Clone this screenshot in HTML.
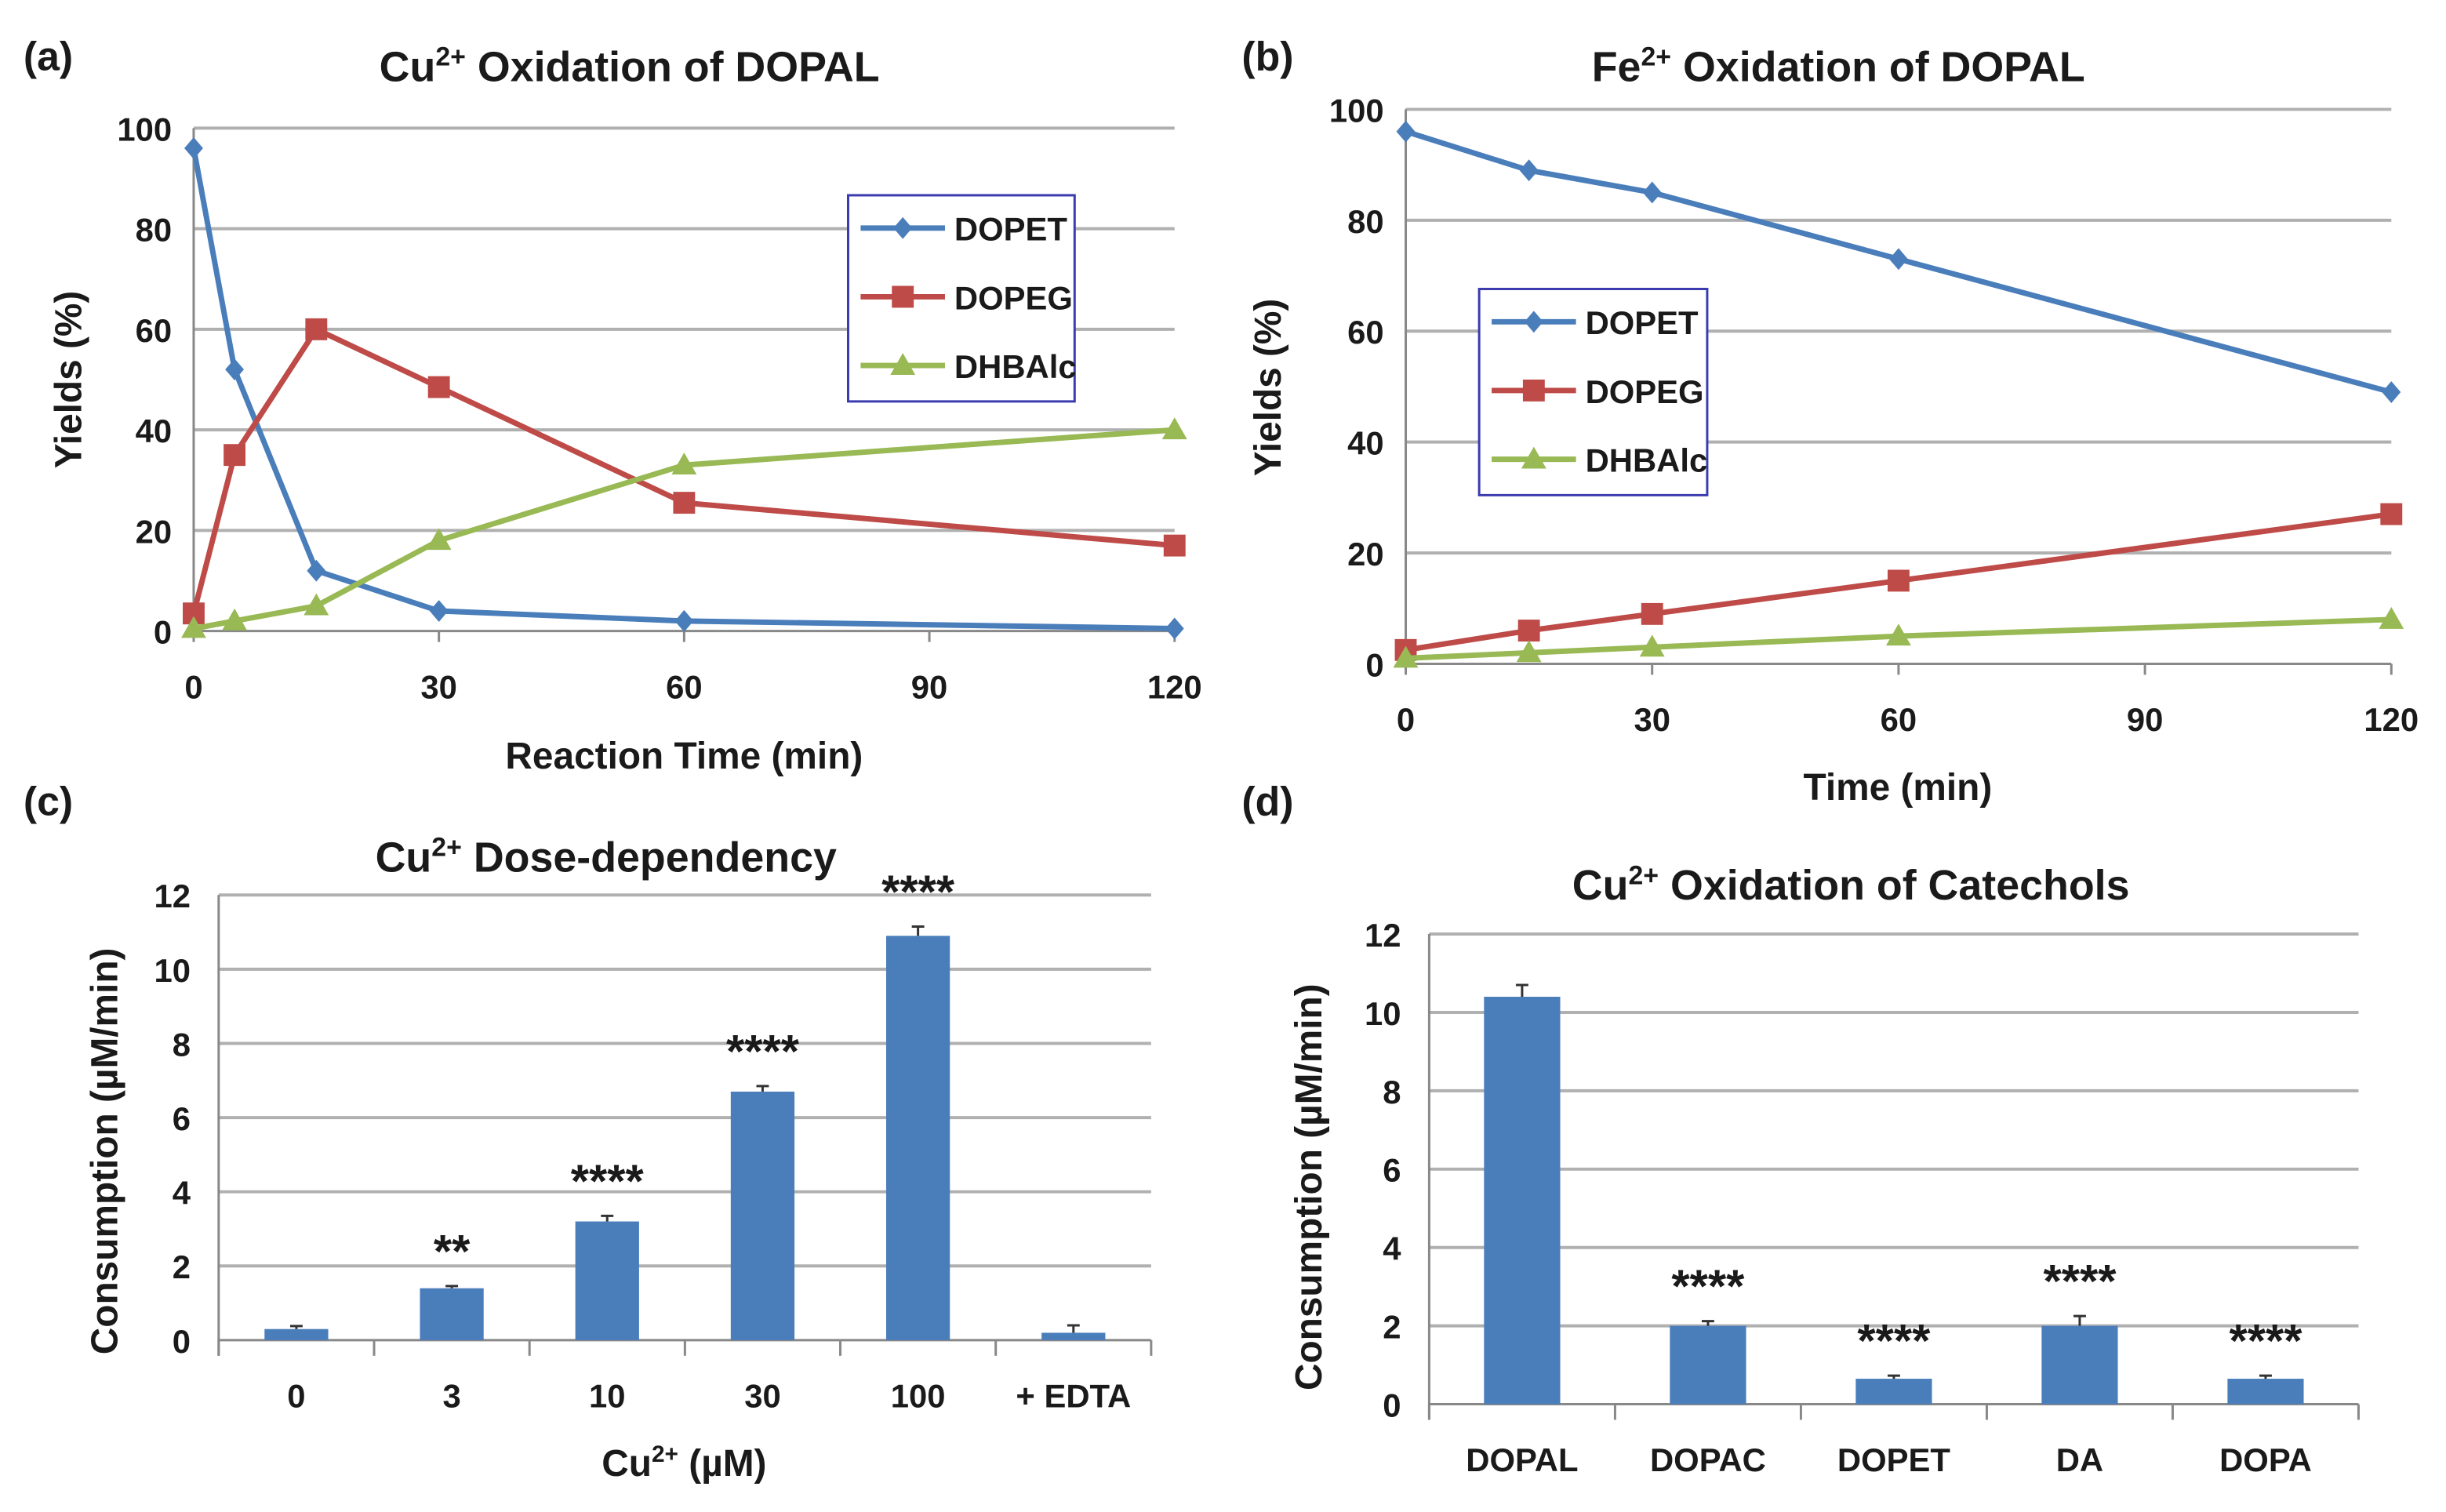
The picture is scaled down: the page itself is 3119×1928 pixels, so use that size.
<!DOCTYPE html>
<html><head><meta charset="utf-8">
<style>
html,body{margin:0;padding:0;background:#fff;}
svg{display:block;font-family:"Liberation Sans",Arial,sans-serif;}
.t{font-weight:bold;fill:#1a1a1a;}
</style></head>
<body>
<svg id="fig" width="3119" height="1928" viewBox="0 0 1566 968" xmlns="http://www.w3.org/2000/svg">
<g id="root"></g>
</svg>
<script>
// ---- data ----
const timesA = [0,5,15,30,60,120];
const dopetA = [96,52,12,4,2,0.5];
const dopegA = [3.5,35,60,48.5,25.5,17];
const dhbalcA = [0.5,2,5,18,33,40];
const timesB = [0,15,30,60,120];
const dopetB = [96,89,85,73,49];
const dopegB = [2.5,6,9,15,27];
const dhbalcB = [1,2,3,5,8];
const xTicksLine = [0,30,60,90,120];
const yTicksLine = [0,20,40,60,80,100];
const catsC = ["0","3","10","30","100","+ EDTA"];
const valsC = [0.3,1.4,3.2,6.7,10.9,0.2];
const errC = [0.08,0.06,0.15,0.15,0.25,0.2];
const starsC = ["","**","****","****","****",""];
const catsD = ["DOPAL","DOPAC","DOPET","DA","DOPA"];
const valsD = [10.4,2.0,0.65,2.0,0.65];
const errD = [0.3,0.12,0.08,0.25,0.08];
const starsD = ["","****","****","****","****"];
const yTicksBar = [0,2,4,6,8,10,12];

const NS="http://www.w3.org/2000/svg";
const root=document.getElementById('root');
function mk(tag,attrs,parent,text){const e=document.createElementNS(NS,tag);for(const k in attrs)e.setAttribute(k,attrs[k]);if(text!==undefined)e.textContent=text;(parent||root).appendChild(e);return e;}
const BLUE="#4a7ebb",RED="#be4b48",GREEN="#98b954";

function title(x,y,pre,sup,post,name){
  const t=mk('text',{x:x,y:y,'text-anchor':'middle','font-size':27,class:'t'});
  
  mk('tspan',{},t,pre);mk('tspan',{dy:-10,'font-size':17},t,sup);mk('tspan',{dy:10},t,post);
}
function label(x,y,s,name,size,anchor,rot){
  const a={x:x,y:y,'text-anchor':anchor||'middle','font-size':size||22,class:'t'};
  if(rot)a.transform='rotate(-90 '+x+' '+y+')';
  const t=mk('text',a,root,s);return t;
}

function linePanel(o){
  const sx=v=>o.x0+(v-0)/120*(o.x1-o.x0);
  const sy=v=>o.y0-(v/100)*(o.y0-o.y1);
  const g=mk('g',{});
  yTicksLine.forEach(v=>{
    if(v>0){const l=mk('line',{x1:o.x0,x2:o.x1,y1:sy(v),y2:sy(v),stroke:'#b0b0b0','stroke-width':2},g);}
    const t=mk('text',{x:o.x0-14,y:sy(v)+8,'text-anchor':'end','font-size':21,class:'t'},g,v);
  });
  mk('line',{x1:o.x0,x2:o.x0,y1:o.y1,y2:o.y0,stroke:'#888','stroke-width':1.5},g);
  mk('line',{x1:o.x0,x2:o.x1,y1:o.y0,y2:o.y0,stroke:'#888','stroke-width':1.5},g);
  xTicksLine.forEach(v=>{
    mk('line',{x1:sx(v),x2:sx(v),y1:o.y0,y2:o.y0+7,stroke:'#888','stroke-width':1.5},g);
    const t=mk('text',{x:sx(v),y:o.y0+43,'text-anchor':'middle','font-size':21,class:'t'},g,v);
  });
  const series=[[o.dopet,BLUE,'dopet','d'],[o.dopeg,RED,'dopeg','s'],[o.dhb,GREEN,'dhbalc','t']];
  series.forEach(([vals,col,nm,mkType])=>{
    const pts=vals.map((v,i)=>sx(o.times[i])+','+sy(v)).join(' ');
    const pl=mk('polyline',{points:pts,fill:'none',stroke:col,'stroke-width':3.5},g);
    
    vals.forEach((v,i)=>{marker(sx(o.times[i]),sy(v),col,mkType,g,nm+'-point');});
  });
  const L=o.leg;
  const lb=mk('rect',{x:L.x,y:L.y,width:L.w,height:L.h,fill:'#fff',stroke:'#3b3bb0','stroke-width':1.5},g);
  
  [['DOPET',BLUE,'d'],['DOPEG',RED,'s'],['DHBAlc',GREEN,'t']].forEach(([n,c,m],i)=>{
    const yy=L.y+21+i*44;
    mk('line',{x1:L.x+8,x2:L.x+62,y1:yy,y2:yy,stroke:c,'stroke-width':3.5},g);
    marker(L.x+35,yy,c,m,g,'legend-marker');
    const t=mk('text',{x:L.x+68,y:yy+8,'font-size':21,class:'t'},g,n);
  });
}
function marker(x,y,c,t,g,name){
  let e;
  if(t==='d')e=mk('polygon',{points:`${x},${y-7} ${x+6},${y} ${x},${y+7} ${x-6},${y}`,fill:c},g);
  else if(t==='s')e=mk('rect',{x:x-7,y:y-7,width:14,height:14,fill:c},g);
  else e=mk('polygon',{points:`${x},${y-8} ${x+8},${y+6} ${x-8},${y+6}`,fill:c},g);
  
}

function barPanel(o){
  const sy=v=>o.y0-(v/12)*(o.y0-o.y1);
  const n=o.cats.length, step=(o.x1-o.x0)/n;
  const g=mk('g',{});
  yTicksBar.forEach(v=>{
    if(v>0){const l=mk('line',{x1:o.x0,x2:o.x1,y1:sy(v),y2:sy(v),stroke:'#b0b0b0','stroke-width':2},g);}
    const t=mk('text',{x:o.x0-18,y:sy(v)+8,'text-anchor':'end','font-size':21,class:'t'},g,v);
  });
  mk('line',{x1:o.x0,x2:o.x0,y1:o.y1,y2:o.y0+10,stroke:'#888','stroke-width':1.5},g);
  mk('line',{x1:o.x0,x2:o.x1,y1:o.y0,y2:o.y0,stroke:'#888','stroke-width':1.5},g);
  for(let i=0;i<=n;i++)mk('line',{x1:o.x0+i*step,x2:o.x0+i*step,y1:o.y0,y2:o.y0+10,stroke:'#888','stroke-width':1.5},g);
  o.cats.forEach((c,i)=>{
    const cx=o.x0+(i+0.5)*step, w=step*0.41;
    const b=mk('rect',{x:cx-w/2,y:sy(o.vals[i]),width:w,height:o.y0-sy(o.vals[i]),fill:BLUE},g);
    
    const ey=sy(o.vals[i]+o.err[i]);
    mk('line',{x1:cx,x2:cx,y1:sy(o.vals[i]),y2:ey,stroke:'#333','stroke-width':1.5},g);
    mk('line',{x1:cx-4,x2:cx+4,y1:ey,y2:ey,stroke:'#333','stroke-width':1.5},g);
    if(o.stars[i]){const s=mk('text',{x:cx,y:ey-12,'text-anchor':'middle','font-size':30,class:'t'},g,o.stars[i]);}
    const t=mk('text',{x:cx,y:o.y0+43,'text-anchor':'middle','font-size':21,class:'t'},g,c);
  });
}

label(15,45,'(a)','panel-label-a',26,'start');
label(795,45,'(b)','panel-label-b',26,'start');
label(15,522,'(c)','panel-label-c',26,'start');
label(795,522,'(d)','panel-label-d',26,'start');

title(403,52,'Cu','2+',' Oxidation of DOPAL','title-a');
linePanel({id:'panel-a',x0:124,x1:752,y0:404,y1:82,times:timesA,dopet:dopetA,dopeg:dopegA,dhb:dhbalcA,leg:{x:543,y:125,w:145,h:132}});
label(52,243,'Yields (%)','y-axis-title-a',24,'middle',true);
label(438,492,'Reaction Time (min)','x-axis-title-a',24);

title(1177,52,'Fe','2+',' Oxidation of DOPAL','title-b');
linePanel({id:'panel-b',x0:900,x1:1531,y0:425,y1:70,times:timesB,dopet:dopetB,dopeg:dopegB,dhb:dhbalcB,leg:{x:947,y:185,w:146,h:132}});
label(820,248,'Yields (%)','y-axis-title-b',24,'middle',true);
label(1215,512,'Time (min)','x-axis-title-b',24);

title(388,558,'Cu','2+',' Dose-dependency','title-c');
barPanel({id:'panel-c',x0:140,x1:737,y0:858,y1:573,cats:catsC,vals:valsC,err:errC,stars:starsC});
label(75,737,'Consumption (µM/min)','y-axis-title-c',24,'middle',true);
const xc=label(438,945,'','x-axis-title-c',24);
mk('tspan',{},xc,'Cu');mk('tspan',{dy:-9,'font-size':15},xc,'2+');mk('tspan',{dy:9},xc,' (µM)');

title(1185,576,'Cu','2+',' Oxidation of Catechols','title-d');
barPanel({id:'panel-d',x0:915,x1:1510,y0:899,y1:598,cats:catsD,vals:valsD,err:errD,stars:starsD});
label(846,760,'Consumption (µM/min)','y-axis-title-d',24,'middle',true);
</script>
</body></html>
